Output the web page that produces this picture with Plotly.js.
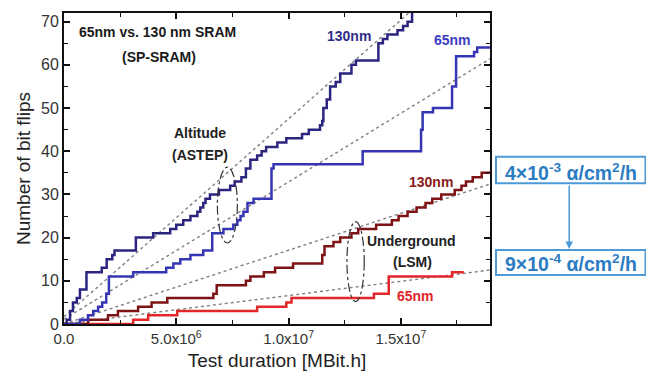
<!DOCTYPE html>
<html>
<head>
<meta charset="utf-8">
<script src="https://cdn.plot.ly/plotly-3.0.1.min.js"></script>
<style>html,body{margin:0;padding:0;background:#fff;}#chart{width:646px;height:379px;}</style>
</head>
<body>
<div id="chart"></div>
<script>
// Test duration values in units of 1e6 MBit.h
var alt130_x = [0, 0.12, 0.27, 0.4, 0.57, 0.71, 1.0, 1.68, 1.9, 2.15, 2.25, 3.2, 3.97, 4.73, 5.0, 5.31, 5.63, 5.94, 6.07, 6.2, 6.3, 6.5, 6.9, 7.4, 7.6, 7.9, 8.1, 8.3, 8.6, 8.8, 9.0, 9.5, 9.9, 10.6, 10.9, 11.4, 11.5, 11.55, 11.7, 11.85, 12.1, 12.3, 12.8, 13.0, 14.0, 14.2, 14.4, 14.85, 15.1, 15.3, 15.5];
var alt130_y = [0, 1, 3, 5, 6, 8, 12, 13, 15, 16, 17, 20, 21, 22, 23, 24, 25, 26, 27, 28, 29, 30, 31, 32, 33, 34, 36, 38, 39, 40, 41, 42, 43, 44, 45, 46, 47, 50, 52, 55, 56, 58, 60, 61, 65, 66, 67, 68, 69, 70, 72];

var alt65_x = [0, 0.71, 1.07, 1.3, 1.52, 1.7, 1.88, 2.0, 3.08, 4.55, 4.87, 5.18, 5.63, 6.2, 6.6, 7.1, 7.54, 7.72, 7.86, 7.99, 8.17, 8.44, 9.24, 9.33, 13.3, 15.9, 15.97, 16.43, 17.28, 17.46, 18.26, 18.4, 18.97];
var alt65_y = [0, 1, 2, 3, 4, 5, 7, 11, 12, 13, 14, 15, 16, 17, 21, 22, 23, 24, 25, 26, 28, 29, 36, 37, 40, 45, 49, 50, 55, 62, 63, 64, 64];

var und130_x = [0, 1.07, 1.96, 2.4, 3.3, 3.9, 4.6, 6.65, 6.8, 8.1, 8.3, 8.9, 9.4, 10.2, 11.5, 11.6, 12.0, 12.3, 12.8, 13.1, 13.9, 14.6, 14.9, 15.3, 15.7, 16.1, 16.4, 16.8, 17.4, 17.7, 17.9, 18.2, 18.6, 18.97];
var und130_y = [0, 1, 2, 3, 4, 5, 6, 7, 9, 10, 11, 12, 13, 14, 16, 18, 19, 20, 21, 22, 23, 24, 25, 26, 27, 28, 29, 30, 31, 32, 33, 34, 35, 35];

var und65_x = [0, 3.08, 3.75, 5.04, 8.6, 9.9, 10.13, 13.8, 14.46, 17.28, 17.8];
var und65_y = [0, 1, 2, 3, 4, 5, 6, 7, 11, 12, 12];

// dotted trend lines (end points)
var fitAlt130_x = [0, 15.35], fitAlt130_y = [1.7, 72];
var fitAlt65_x = [0, 18.97],  fitAlt65_y = [1.1, 61.4];
var fitUnd130_x = [0, 18.97], fitUnd130_y = [0, 32.4];
var fitUnd65_x = [0, 18.97],  fitUnd65_y = [0, 12.5];

var xTickVals = [0, 5, 10, 15];
var xTickText = ['0.0', '5.0x10<sup>6</sup>', '1.0x10<sup>7</sup>', '1.5x10<sup>7</sup>'];

var M = 1e6;
function sc(a){ return a.map(function(v){ return v*M; }); }

function step(x, y, color){
  return {x: sc(x), y: y, mode: 'lines', line: {shape: 'hv', color: color, width: 2.5}, hoverinfo: 'skip'};
}
function fit(x, y){
  return {x: sc(x), y: y, mode: 'lines', line: {color: '#808080', width: 1.4, dash: 'dot'}, hoverinfo: 'skip'};
}

var data = [
  fit(fitAlt130_x, fitAlt130_y),
  fit(fitAlt65_x, fitAlt65_y),
  fit(fitUnd130_x, fitUnd130_y),
  fit(fitUnd65_x, fitUnd65_y),
  step(und65_x, und65_y, '#e3262a'),
  step(und130_x, und130_y, '#7d1315'),
  step(alt65_x, alt65_y, '#3535b5'),
  step(alt130_x, alt130_y, '#2b2580')
];

var F = 'Arial, Liberation Sans, sans-serif';
function ann(x, y, text, color){
  return {x: x*M, y: y, xref: 'x', yref: 'y', text: '<b>' + text + '</b>', showarrow: false,
          font: {family: F, size: 14, color: color}, xanchor: 'center', yanchor: 'middle'};
}
var boxColor = '#4d9ad8';
var boxText = '#2b7cc2';

var layout = {
  width: 646, height: 379,
  margin: {l: 64, r: 156, t: 13, b: 55},
  paper_bgcolor: '#fff', plot_bgcolor: '#fff',
  showlegend: false,
  font: {family: F},
  xaxis: {
    range: [0, 18.97*M],
    tickmode: 'array', tickvals: sc(xTickVals), ticktext: xTickText,
    ticks: 'inside', ticklen: 6, tickwidth: 1.5, tickcolor: '#111',
    minor: {tickmode: 'linear', tick0: 0, dtick: 2.5*M, ticks: 'inside', ticklen: 4, tickwidth: 1.2, tickcolor: '#111'},
    showline: true, linecolor: '#111', linewidth: 2, mirror: 'ticks',
    showgrid: false, zeroline: false,
    tickfont: {family: F, size: 15, color: '#333'},
    title: {text: 'Test duration [MBit.h]', font: {family: F, size: 19, color: '#222'}, standoff: 8}
  },
  yaxis: {
    range: [0, 72],
    tickmode: 'linear', tick0: 0, dtick: 10,
    ticks: 'inside', ticklen: 6, tickwidth: 1.5, tickcolor: '#111',
    minor: {tickmode: 'linear', tick0: 0, dtick: 5, ticks: 'inside', ticklen: 4, tickwidth: 1.2, tickcolor: '#111'},
    showline: true, linecolor: '#111', linewidth: 2, mirror: 'ticks',
    showgrid: false, zeroline: false,
    tickfont: {family: F, size: 16, color: '#333'},
    title: {text: 'Number of bit flips', font: {family: F, size: 19, color: '#222'}, standoff: 5}
  },
  shapes: [
    {type: 'circle', xref: 'x', yref: 'y', x0: 6.83*M, x1: 7.72*M, y0: 18.75, y1: 36.3,
     line: {color: '#333', width: 1.2, dash: 'dashdot'}},
    {type: 'circle', xref: 'x', yref: 'y', x0: 12.6*M, x1: 13.37*M, y0: 5.2, y1: 23.7,
     line: {color: '#333', width: 1.2, dash: 'dashdot'}},
    {type: 'rect', xref: 'paper', yref: 'paper', x0: 1.0141, x1: 1.365, y0: 0.4524, y1: 0.538,
     line: {color: boxColor, width: 2}, fillcolor: 'rgba(0,0,0,0)', layer: 'below'},
    {type: 'rect', xref: 'paper', yref: 'paper', x0: 1.0141, x1: 1.365, y0: 0.1576, y1: 0.2379,
     line: {color: boxColor, width: 2}, fillcolor: 'rgba(0,0,0,0)', layer: 'below'}
  ],
  annotations: [
    ann(4.15, 67.6, '65nm vs. 130 nm SRAM', '#1a1a1a'),
    ann(4.24, 61.8, '(SP-SRAM)', '#1a1a1a'),
    ann(6.07, 44.2, 'Altitude', '#222'),
    ann(6.07, 39.1, '(ASTEP)', '#222'),
    ann(12.68, 66.7, '130nm', '#2e2e8a'),
    ann(17.28, 65.7, '65nm', '#3c3cc0'),
    ann(16.34, 32.9, '130nm', '#8a1a1a'),
    ann(15.49, 19.2, 'Underground', '#222'),
    ann(15.54, 14.4, '(LSM)', '#222'),
    ann(15.63, 6.5, '65nm', '#e0262c'),
    {x: 1.1906, y: 0.4897, xref: 'paper', yref: 'paper', xanchor: 'center', yanchor: 'middle', showarrow: false,
     text: '<b>4×10<sup>-3</sup> α/cm<sup>2</sup>/h</b>', font: {family: F, size: 19.5, color: boxText}},
    {x: 1.1906, y: 0.1961, xref: 'paper', yref: 'paper', xanchor: 'center', yanchor: 'middle', showarrow: false,
     text: '<b>9×10<sup>-4</sup> α/cm<sup>2</sup>/h</b>', font: {family: F, size: 19.5, color: boxText}},
    {x: 1.1859, y: 0.2412, xref: 'paper', yref: 'paper', text: '', showarrow: true,
     ax: 0, ay: -65, axref: 'pixel', ayref: 'pixel', arrowcolor: boxColor, arrowwidth: 1.5,
     arrowhead: 2, arrowsize: 1, standoff: 0}
  ]
};

Plotly.newPlot('chart', data, layout, {displayModeBar: false});
</script>
</body>
</html>
